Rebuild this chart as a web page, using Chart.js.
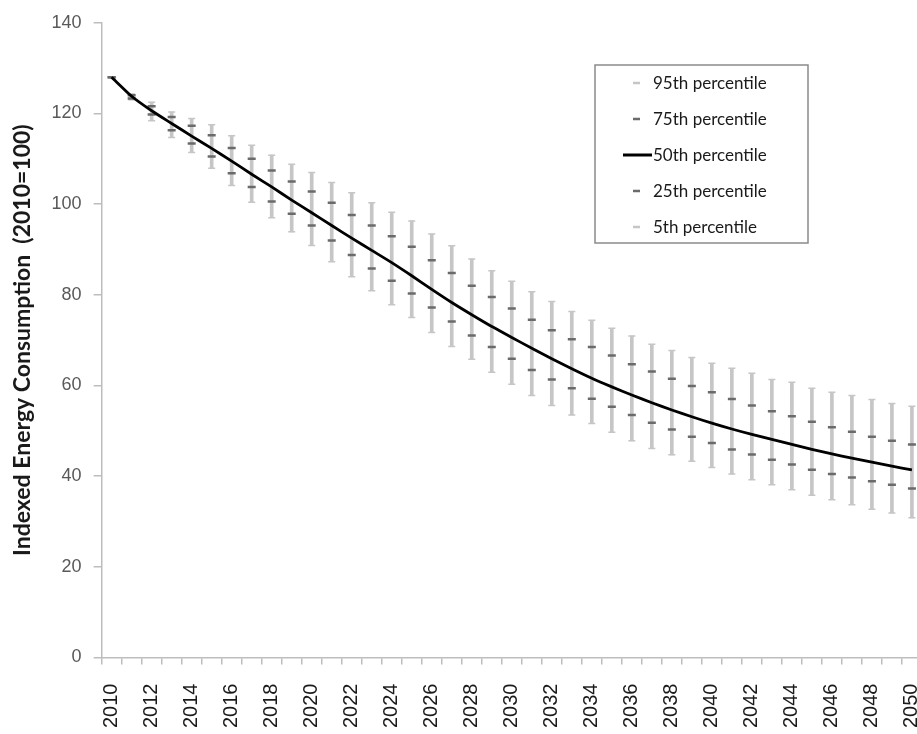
<!DOCTYPE html>
<html>
<head>
<meta charset="utf-8">
<script src="https://cdn.jsdelivr.net/npm/chart.js@4"></script>
<style>
  html, body { margin: 0; padding: 0; background: #fff; overflow: hidden; }
  #wrap { position: relative; width: 955px; height: 751px; }
</style>
</head>
<body>
<div id="wrap"><canvas id="myChart"></canvas></div>
<script>
const years = [];
for (let y = 2010; y <= 2050; y++) years.push(String(y));

const p95 = [128, 124.3, 122.5, 120.3, 118.9, 117.5, 115.1, 113.0, 110.8, 108.8,
  107.0, 104.8, 102.5, 100.3, 98.2, 96.3, 93.4, 90.8, 87.9, 85.3,
  83.0, 80.7, 78.5, 76.3, 74.4, 72.6, 70.9, 69.1, 67.7, 66.2,
  64.9, 63.8, 62.7, 61.3, 60.7, 59.4, 58.5, 57.8, 56.9, 56.0, 55.4];
const p75 = [128, 124.0, 121.6, 119.2, 117.3, 115.2, 112.4, 110.0, 107.4, 105.0,
  102.8, 100.3, 97.6, 95.3, 92.9, 90.6, 87.6, 84.8, 82.0, 79.5,
  77.0, 74.5, 72.2, 70.2, 68.5, 66.6, 64.7, 63.1, 61.5, 59.9,
  58.5, 57.0, 55.6, 54.3, 53.2, 52.0, 50.8, 49.8, 48.7, 47.8, 47.0];
const p50 = [128, 123.8, 120.6, 117.8, 115.0, 112.3, 109.5, 106.6, 103.8, 100.9,
  98.1, 95.3, 92.5, 89.8, 87.1, 84.2, 81.2, 78.3, 75.6, 73.0,
  70.6, 68.2, 65.9, 63.7, 61.6, 59.7, 57.9, 56.2, 54.6, 53.1,
  51.7, 50.4, 49.2, 48.1, 47.0, 45.9, 44.9, 44.0, 43.1, 42.2, 41.4];
const p25 = [128, 123.3, 119.8, 116.3, 113.4, 110.5, 106.8, 103.8, 100.6, 97.9,
  95.3, 92.0, 88.8, 85.8, 83.1, 80.3, 77.2, 74.1, 71.0, 68.5,
  65.9, 63.4, 61.3, 59.4, 57.1, 55.3, 53.5, 51.8, 50.3, 48.7,
  47.3, 45.9, 44.8, 43.6, 42.6, 41.4, 40.5, 39.7, 38.9, 38.1, 37.3];
const p5 = [128, 123.0, 118.4, 114.7, 111.4, 107.9, 104.1, 100.4, 97.0, 93.9,
  90.9, 87.3, 84.0, 80.9, 77.8, 75.0, 71.7, 68.6, 65.8, 62.9,
  60.3, 57.8, 55.6, 53.5, 51.6, 49.7, 47.8, 46.1, 44.7, 43.3,
  41.9, 40.5, 39.2, 38.1, 37.0, 35.8, 34.8, 33.7, 32.7, 31.9, 30.8];

const LIGHT = '#c6c6c6';
const DARK = '#6a6a6a';
const AXIS = '#bdbdbd';

// draws the boxed legend inside the plot, like the original
const boxLegend = {
  id: 'boxLegend',
  afterDraw(chart) {
    const ctx = chart.ctx;
    const items = chart.data.datasets.filter(d => d.legendMark);
    const x0 = 595, y0 = 65, w = 213, h = 178;
    ctx.save();
    ctx.fillStyle = '#fff';
    ctx.fillRect(x0, y0, w, h);
    ctx.strokeStyle = '#8a8a8a';
    ctx.lineWidth = 1.5;
    ctx.strokeRect(x0, y0, w, h);
    ctx.font = '17px Lato';
    ctx.textBaseline = 'middle';
    items.forEach((d, i) => {
      const cy = y0 + 18 + i * 36;
      ctx.beginPath();
      if (d.legendMark === 'line') {
        ctx.strokeStyle = '#000';
        ctx.lineWidth = 3;
        ctx.moveTo(623, cy);
        ctx.lineTo(652, cy);
      } else {
        ctx.strokeStyle = d.borderColor;
        ctx.lineWidth = 2.5;
        ctx.moveTo(633, cy);
        ctx.lineTo(640, cy);
      }
      ctx.stroke();
      ctx.fillStyle = '#1a1a1a';
      ctx.fillText(d.label, 653, cy + 1);
    });
    ctx.restore();
  }
};

const ctx = document.getElementById('myChart').getContext('2d');
new Chart(ctx, {
  type: 'bar',
  data: {
    labels: years,
    datasets: [
      {
        label: 'range',
        data: p5.map((v, i) => [v, p95[i]]),
        backgroundColor: LIGHT,
        borderWidth: 0,
        barThickness: 3,
        order: 5
      },
      {
        type: 'line', label: '95th percentile', data: p95, legendMark: 'dash',
        showLine: false, pointStyle: 'line', pointRadius: 3.5,
        borderColor: LIGHT, borderWidth: 1.5, order: 4
      },
      {
        type: 'line', label: '75th percentile', data: p75, legendMark: 'dash',
        showLine: false, pointStyle: 'line', pointRadius: 4,
        borderColor: DARK, borderWidth: 2.5, order: 3
      },
      {
        type: 'line', label: '50th percentile', data: p50, legendMark: 'line',
        borderColor: '#000', borderWidth: 2.8, pointRadius: 0,
        tension: 0.2, order: 1
      },
      {
        type: 'line', label: '25th percentile', data: p25, legendMark: 'dash',
        showLine: false, pointStyle: 'line', pointRadius: 4,
        borderColor: DARK, borderWidth: 2.5, order: 3
      },
      {
        type: 'line', label: '5th percentile', data: p5, legendMark: 'dash',
        showLine: false, pointStyle: 'line', pointRadius: 3.5,
        borderColor: LIGHT, borderWidth: 1.5, order: 4
      }
    ]
  },
  options: {
    responsive: true,
    maintainAspectRatio: false,
    animation: false,
    events: [],
    layout: { padding: { top: 8, left: 4, right: 3, bottom: 4 } },
    plugins: {
      legend: { display: false },
      tooltip: { enabled: false }
    },
    scales: {
      x: {
        offset: true,
        grid: { display: true, drawOnChartArea: false, offset: true, tickLength: 7, color: AXIS, lineWidth: 1.5 },
        border: { color: AXIS, width: 1.5 },
        ticks: {
          autoSkip: false,
          maxRotation: 90,
          minRotation: 90,
          padding: 19,
          color: '#1a1a1a',
          font: { family: 'Liberation Sans', size: 20 },
          callback: (v, i) => (i % 2 === 0 ? years[i] : '')
        }
      },
      y: {
        min: 0,
        max: 140,
        grid: { display: true, drawOnChartArea: false, tickLength: 8, color: AXIS, lineWidth: 1.5 },
        border: { color: AXIS, width: 1.5 },
        ticks: {
          stepSize: 20,
          padding: 12,
          color: '#595959',
          font: { family: 'Liberation Sans', size: 18 }
        },
        title: {
          display: true,
          text: 'Indexed Energy Consumption  (2010=100)',
          color: '#1a1a1a',
          font: { family: 'Lato', size: 23, weight: 'bold' },
          padding: { top: 5, bottom: 3 }
        }
      }
    }
  },
  plugins: [boxLegend]
});
</script>
</body>
</html>
